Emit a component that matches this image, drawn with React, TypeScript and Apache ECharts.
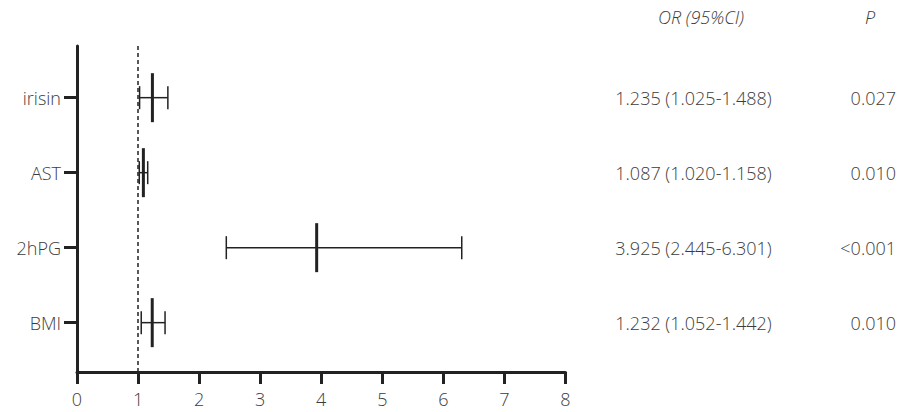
import React, { useEffect, useRef } from "react";
import * as echarts from "echarts";

const categories = ["irisin", "AST", "2hPG", "BMI"];
const orValues = [1.235, 1.087, 3.925, 1.232];
const lowerCI = [1.025, 1.02, 2.445, 1.052];
const upperCI = [1.488, 1.158, 6.301, 1.442];
const pValues = ["0.027", "0.010", "<0.001", "0.010"];
const rowPositions = [1, 2, 3, 4];
const xTicks = [0, 1, 2, 3, 4, 5, 6, 7, 8];

const FONT = "'Open Sans', 'Noto Sans', sans-serif";
const TEXT = "#3c3c3c";
const INK = "#222";
const FW = 300;

export default function App() {
  const ref = useRef<HTMLDivElement>(null);
  useEffect(() => {
    document.body.style.margin = "0";
    const chart = echarts.init(ref.current!, null, { renderer: "svg" });
    const forestData = categories.map((c, i) => [lowerCI[i], upperCI[i], orValues[i], rowPositions[i]]);
    const textData = categories.map((c, i) => [rowPositions[i], i]);
    chart.setOption({
      animation: false,
      grid: { left: 77, right: 335.5, top: 46, bottom: 40, containLabel: false },
      xAxis: {
        type: "value",
        min: xTicks[0],
        max: xTicks[xTicks.length - 1],
        interval: 1,
        splitLine: { show: false },
        axisLine: { show: true, lineStyle: { color: INK, width: 3 } },
        axisTick: { show: true, length: 12, lineStyle: { color: INK, width: 3 } },
        axisLabel: { margin: 18, fontSize: 18, fontWeight: FW, color: TEXT, fontFamily: FONT },
      },
      yAxis: {
        type: "value",
        inverse: true,
        min: 0.311,
        max: 4.658,
        splitLine: { show: false },
        axisLine: { show: true, lineStyle: { color: INK, width: 3 } },
        axisTick: { show: true, length: 13, customValues: rowPositions, lineStyle: { color: INK, width: 3 } },
        axisLabel: {
          customValues: rowPositions,
          margin: 16,
          fontSize: 18,
          fontWeight: FW,
          color: TEXT,
          fontFamily: FONT,
          formatter: (v: number) => categories[rowPositions.indexOf(Math.round(v))] ?? "",
        },
      },
      graphic: [
        { type: "text", x: 701, y: 17, style: { text: "OR (95%CI)", font: `italic ${FW} 18px ${FONT}`, fill: TEXT, align: "center", verticalAlign: "middle" } },
        { type: "text", x: 870, y: 17, style: { text: "P", font: `italic ${FW} 18px ${FONT}`, fill: TEXT, align: "center", verticalAlign: "middle" } },
      ],
      series: [
        {
          type: "custom",
          data: forestData,
          encode: { x: [0, 1, 2], y: 3 },
          clip: false,
          renderItem: (params: any, api: any) => {
            const y = api.value(3);
            const lo = api.coord([api.value(0), y]);
            const hi = api.coord([api.value(1), y]);
            const mid = api.coord([api.value(2), y]);
            const cap = 11.5;
            const pt = 24.5;
            const thin = { stroke: INK, lineWidth: 1.5 };
            return {
              type: "group",
              children: [
                { type: "line", shape: { x1: lo[0], y1: lo[1], x2: hi[0], y2: hi[1] }, style: thin },
                { type: "line", shape: { x1: lo[0], y1: lo[1] - cap, x2: lo[0], y2: lo[1] + cap }, style: thin },
                { type: "line", shape: { x1: hi[0], y1: hi[1] - cap, x2: hi[0], y2: hi[1] + cap }, style: thin },
                { type: "line", shape: { x1: mid[0], y1: mid[1] - pt, x2: mid[0], y2: mid[1] + pt }, style: { stroke: INK, lineWidth: 3 } },
              ],
            };
          },
          markLine: {
            silent: true,
            symbol: "none",
            label: { show: false },
            lineStyle: { color: INK, width: 1.5, type: [4, 3] },
            data: [{ xAxis: 1 }],
          },
        },
        {
          type: "custom",
          data: textData,
          encode: { y: 0 },
          clip: false,
          renderItem: (params: any, api: any) => {
            const i = api.value(1);
            const p = api.coord([0, api.value(0)]);
            return {
              type: "group",
              children: [
                {
                  type: "text",
                  x: 693.5,
                  y: p[1],
                  style: {
                    text: `${orValues[i].toFixed(3)} (${lowerCI[i].toFixed(3)}-${upperCI[i].toFixed(3)})`,
                    font: `${FW} 18px ${FONT}`,
                    fill: TEXT,
                    align: "center",
                    verticalAlign: "middle",
                  },
                },
                {
                  type: "text",
                  x: 896,
                  y: p[1],
                  style: { text: pValues[i], font: `${FW} 18px ${FONT}`, fill: TEXT, align: "right", verticalAlign: "middle" },
                },
              ],
            };
          },
        },
      ],
    });
    return () => chart.dispose();
  }, []);
  return <div ref={ref} style={{ width: 901, height: 412 }} />;
}
